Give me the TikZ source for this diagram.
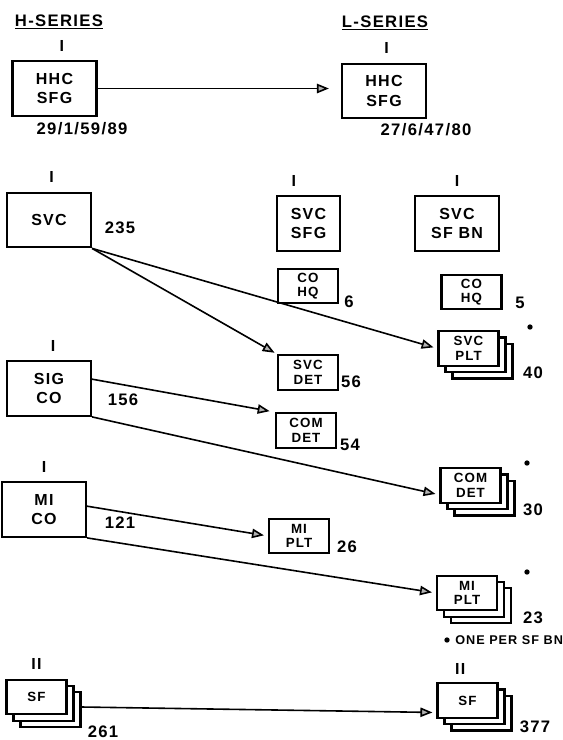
\documentclass[tikz,border=0pt]{standalone}
\usepackage{fontspec}
\setmainfont{Liberation Sans}[LetterSpace=8]
\usetikzlibrary{arrows.meta,positioning,shadows}

\begin{document}
\begin{tikzpicture}[
        x=0.75pt, y=-0.75pt,
        >={Triangle[length=9pt,width=7pt,fill=gray!60]},
        line width=1.2pt,
        font=\bfseries,
        bigbox/.style={
            draw,
            line width=1.6pt,
            align=center,
            font=\bfseries\fontsize{12}{14.5}\selectfont,
            inner sep=1pt,
            minimum width=63pt,
            minimum height=41pt
        },
        smallbox/.style={
            draw,
            line width=1.6pt,
            fill=white,
            align=center,
            font=\bfseries\fontsize{10}{11}\selectfont,
            inner sep=1pt,
            minimum width=45pt,
            minimum height=26pt
        },
        stackbox/.style={
            smallbox,
            general shadow={shadow xshift=10.5pt, shadow yshift=-9.5pt, draw, fill=white},
            general shadow={shadow xshift=5.25pt, shadow yshift=-4.75pt, draw, fill=white}
        },
        numlabel/.style={font=\bfseries\fontsize{12.5}{12.5}\selectfont, inner sep=1pt},
        idx/.style={font=\bfseries\fontsize{12}{12}\selectfont, inner sep=1pt},
        series/.style={font=\bfseries\fontsize{12.5}{13}\selectfont, inner sep=1pt},
        sfdot/.style={circle, fill, inner sep=0pt, minimum size=4pt}
    ]
        \useasboundingbox (0,0) rectangle (563,740);

        % headings
        \node[series] (hser) at (59,22) {\underline{H-SERIES}};
        \node[series] (lser) at (385,23) {\underline{L-SERIES}};

        % H-series column
        \node[bigbox] (hhcH) at (54.5,88.5) {HHC\\SFG};
        \node[bigbox] (svcH) at (49,220) {SVC};
        \node[bigbox] (sigCO) at (49,388.5) {SIG\\CO};
        \node[bigbox] (miCO) at (44,509.5) {MI\\CO};
        \node[stackbox] (sfH) at (36.5,697) {SF};

        % L-series columns
        \node[bigbox] (hhcL) at (384,91) {HHC\\SFG};
        \node[bigbox, minimum width=47pt] (svcSFG) at (308.5,223.5) {SVC\\SFG};
        \node[bigbox] (svcBN) at (457,223.5) {SVC\\SF BN};
        \node[smallbox] (hqA) at (308,286) {CO\\HQ};
        \node[smallbox] (hqB) at (471.5,292) {CO\\HQ};
        \node[smallbox] (svcDet) at (308,372.5) {SVC\\DET};
        \node[stackbox] (svcPlt) at (468.5,348.5) {SVC\\PLT};
        \node[smallbox] (comDet) at (306,430.5) {COM\\DET};
        \node[stackbox] (comDetS) at (470.5,485.5) {COM\\DET};
        \node[smallbox] (miPlt) at (299,536) {MI\\PLT};
        \node[stackbox] (miPltS) at (467,593) {MI\\PLT};
        \node[stackbox] (sfL) at (467.5,700.5) {SF};

        % echelon marks
        \node[idx, above=5pt of hhcH, xshift=5.5pt] (iHhcH) {I};
        \node[idx, above=5pt of hhcL, xshift=2pt] (iHhcL) {I};
        \node[idx, above=5pt of svcH, xshift=2pt] (iSvcH) {I};
        \node[idx, above=5pt of svcSFG, xshift=-11pt] (iSvcSFG) {I};
        \node[idx, above=5pt of svcBN] (iSvcBN) {I};
        \node[idx, above=5pt of sigCO, xshift=3pt] (iSigCO) {I};
        \node[idx, above=5pt of miCO] (iMiCO) {I};
        \node[idx, above=5pt of sfH] (iiSfH) {II};
        \node[idx, above=4pt of sfL, xshift=-5.5pt] (iiSfL) {II};

        % strengths
        \node[numlabel] (nHhcH) at (82,129) {29/1/59/89};
        \node[numlabel] (nHhcL) at (426,130) {27/6/47/80};
        \node[numlabel] (nSvcH) at (120,228) {235};
        \node[numlabel] (nHqA) at (349,302) {6};
        \node[numlabel] (nHqB) at (520,303) {5};
        \node[numlabel] (nSvcDet) at (351,382) {56};
        \node[numlabel] (nSvcPlt) at (533,373) {40};
        \node[numlabel] (nSigCO) at (123,400) {156};
        \node[numlabel] (nComDet) at (350,445) {54};
        \node[numlabel] (nComDetS) at (533,510) {30};
        \node[numlabel] (nMiCO) at (120,523) {121};
        \node[numlabel] (nMiPlt) at (347,547) {26};
        \node[numlabel] (nMiPltS) at (533,618) {23};
        \node[numlabel] (nSfH) at (103,732) {261};
        \node[numlabel] (nSfL) at (535,727) {377};

        % one per SF BN marks
        \node[sfdot] (dSvcPlt) at (530,327) {};
        \node[sfdot] (dComDet) at (527,463) {};
        \node[sfdot] (dMiPlt) at (527,572) {};
        \node[sfdot] (dLeg) at (447,640) {};
        \node[font=\bfseries\fontsize{9.5}{10}\selectfont, inner sep=1pt, right=2pt of dLeg] (leg) {ONE PER SF BN};

        % links
        \draw[->, shorten >=9pt] (hhcH.east) -- (hhcH.east -| hhcL.west);
        \draw[->, shorten >=2pt] (svcH.south east) -- (svcDet.north west);
        \draw[->, shorten >=3pt] (svcH.south east) -- (svcPlt.west);
        \draw[->, shorten >=4pt] ([yshift=7pt]sigCO.east) -- (comDet.north west);
        \draw[->, shorten >=3pt] (sigCO.south east) -- ([yshift=-7pt]comDetS.west);
        \draw[->, shorten >=3pt] ([yshift=2.5pt]miCO.east) -- (miPlt.west);
        \draw[->, shorten >=3pt] (miCO.south east) -- (miPltS.west);
        \draw[->, shorten >=3pt] ([xshift=10.5pt,yshift=-7.5pt]sfH.east) -- ([yshift=-9pt]sfL.west);
\end{tikzpicture}
\end{document}
